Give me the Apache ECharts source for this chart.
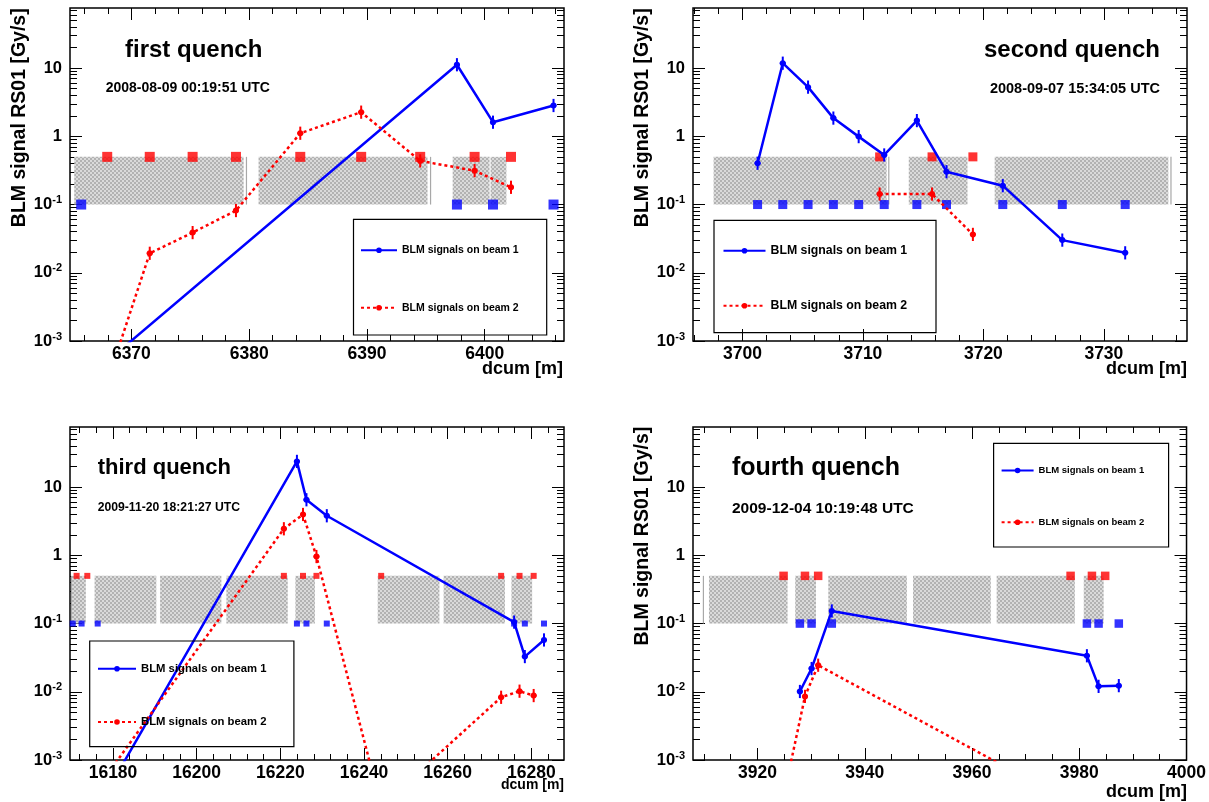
<!DOCTYPE html>
<html>
<head>
<meta charset="utf-8">
<script src="https://cdn.jsdelivr.net/npm/echarts@6/dist/echarts.min.js"></script>
<style>
html, body { margin: 0; padding: 0; background: #fff; }
#chart { width: 1209px; height: 802px; }
</style>
</head>
<body>
<div id="chart"></div>
<script>
const FONT = 'Liberation Sans';
const BEAM1 = 'BLM signals on beam 1';
const BEAM2 = 'BLM signals on beam 2';

// common log y range
const yMin = 0.001;
const yMax = 76;
const decadeTicks = [0.001, 0.01, 0.1, 1, 10];
const beam1Level = 0.1;   // blue squares = beam 1 BLM positions
const beam2Level = 0.5;   // red squares = beam 2 BLM positions
const magnetLow = 0.1;
const magnetHigh = 0.5;
const errFactor = 1.25;

// first quench
const q1Range = [6364.79, 6406.73];
const q1Ticks = [6370, 6380, 6390, 6400];
const q1Beam1Pos = [6365.74, 6397.64, 6400.70, 6405.84];
const q1Beam1Sig = [2.4e-4, 11.2, 1.61, 2.83];
const q1Beam2Pos = [6367.95, 6371.56, 6375.20, 6378.88, 6384.34, 6389.51, 6394.52, 6399.14, 6402.23];
const q1Beam2Sig = [2.5e-4, 0.0193, 0.0388, 0.0817, 1.11, 2.26, 0.436, 0.314, 0.179];
const q1Magnets = [[6365.15, 6379.53], [6379.72, 6379.82], [6380.80, 6395.14], [6395.35, 6395.45], [6397.28, 6400.41], [6400.50, 6401.84]];

// second quench
const q2Range = [3695.9, 3736.9];
const q2Ticks = [3700, 3710, 3720, 3730];
const q2Beam1Pos = [3701.26, 3703.35, 3705.45, 3707.55, 3709.65, 3711.77, 3714.48, 3716.94, 3721.61, 3726.55, 3731.77];
const q2Beam1Sig = [0.403, 11.8, 5.26, 1.85, 0.99, 0.533, 1.70, 0.303, 0.189, 0.0301, 0.0196];
const q2Beam2Pos = [3711.39, 3715.74, 3719.13];
const q2Beam2Sig = [0.1425, 0.1425, 0.0365];
const q2Magnets = [[3697.61, 3711.97], [3712.10, 3712.20], [3713.81, 3718.68], [3720.94, 3735.35], [3735.52, 3735.62]];

// third quench
const q3Range = [16169.72, 16287.8];
const q3Ticks = [16180, 16200, 16220, 16240, 16260, 16280];
const q3Beam1Pos = [16170.38, 16172.49, 16176.34, 16223.96, 16226.24, 16231.10, 16275.88, 16278.44, 16283.02];
const q3Beam1Sig = [1.2e-4, 1.5e-4, 2.0e-4, 23.8, 6.52, 3.8, 0.105, 0.0328, 0.0575];
const q3Beam2Pos = [16171.30, 16173.86, 16220.84, 16225.42, 16228.63, 16244.10, 16272.77, 16277.17, 16280.55];
const q3Beam2Sig = [1.5e-4, 2.4e-4, 2.45, 3.97, 0.96, 2.1e-4, 0.0083, 0.0102, 0.0088];
const q3Magnets = [[16169.95, 16170.05], [16170.2, 16173.5], [16175.6, 16190.35], [16191.26, 16205.9], [16207.1, 16221.76],
  [16223.6, 16228.26], [16243.28, 16258.02], [16259.03, 16273.68], [16275.24, 16280.18]];

// fourth quench
const q4Range = [3907.97, 4000];
const q4Ticks = [3920, 3940, 3960, 3980, 4000];
const q4Beam1Pos = [3927.90, 3930.08, 3933.85, 3981.42, 3983.60, 3987.37];
const q4Beam1Sig = [0.0101, 0.0219, 0.153, 0.0337, 0.0120, 0.0123];
const q4Beam2Pos = [3924.86, 3928.85, 3931.31, 3978.38, 3982.36, 3984.83];
const q4Beam2Sig = [2.9e-4, 0.00855, 0.0245, 2.4e-4, 2.0e-4, 1.8e-4];
const q4Magnets = [[3909.8, 3909.9], [3910.95, 3925.6], [3927.03, 3930.9], [3933.2, 3947.85], [3949.0, 3963.5], [3964.6, 3979.17], [3980.84, 3984.54]];

const panels = [
	{
		grid: { left: 70, top: 8, width: 494, height: 333 },
		range: q1Range, ticks: q1Ticks, minorStep: 2,
		b1Pos: q1Beam1Pos, b1Sig: q1Beam1Sig, b2Pos: q1Beam2Pos, b2Sig: q1Beam2Sig,
		magnets: q1Magnets, square: 10,
		legendBox: [353.5, 219.3, 193.2, 115.7],
		legend: { left: 360, y1: 248.3, y2: 305.7, itemWidth: 36, fontSize: 10.5 },
	},
	{
		grid: { left: 693, top: 8, width: 494, height: 333 },
		range: q2Range, ticks: q2Ticks, minorStep: 2,
		b1Pos: q2Beam1Pos, b1Sig: q2Beam1Sig, b2Pos: q2Beam2Pos, b2Sig: q2Beam2Sig,
		magnets: q2Magnets, square: 9,
		legendBox: [714, 220.3, 222, 112.4],
		legend: { left: 722.5, y1: 248.3, y2: 303.3, itemWidth: 42, fontSize: 12.3 },
	},
	{
		grid: { left: 70, top: 427, width: 494, height: 333 },
		range: q3Range, ticks: q3Ticks, minorStep: 4,
		b1Pos: q3Beam1Pos, b1Sig: q3Beam1Sig, b2Pos: q3Beam2Pos, b2Sig: q3Beam2Sig,
		magnets: q3Magnets, square: 6,
		legendBox: [89.7, 641, 204.2, 105.7],
		legend: { left: 97, y1: 666.7, y2: 720, itemWidth: 38, fontSize: 11.3 },
	},
	{
		grid: { left: 693, top: 427, width: 494, height: 333 },
		range: q4Range, ticks: q4Ticks, minorStep: 5,
		b1Pos: q4Beam1Pos, b1Sig: q4Beam1Sig, b2Pos: q4Beam2Pos, b2Sig: q4Beam2Sig,
		magnets: q4Magnets, square: 8.5,
		legendBox: [993.6, 443.3, 175, 103.7],
		legend: { left: 1000.6, y1: 469, y2: 520.7, itemWidth: 32, fontSize: 9.5 },
	},
];

const texts = [
	{ text: 'first quench', x: 125, y: 50.7, size: 24 },
	{ text: '2008-08-09 00:19:51 UTC', x: 105.7, y: 88.3, size: 14 },
	{ text: 'dcum [m]', x: 563, y: 369.5, size: 18, align: 'right' },
	{ text: 'BLM signal RS01 [Gy/s]', x: 20, y: 8.3, size: 19.5, align: 'right', rot: true },

	{ text: 'second quench', x: 1160, y: 50.7, size: 24, align: 'right' },
	{ text: '2008-09-07 15:34:05 UTC', x: 1160, y: 89.3, size: 14.5, align: 'right' },
	{ text: 'dcum [m]', x: 1187, y: 369.5, size: 18, align: 'right' },
	{ text: 'BLM signal RS01 [Gy/s]', x: 643, y: 8.3, size: 19.5, align: 'right', rot: true },

	{ text: 'third quench', x: 97.7, y: 468.3, size: 22 },
	{ text: '2009-11-20 18:21:27 UTC', x: 97.7, y: 507.3, size: 12.2 },
	{ text: 'dcum [m]', x: 564, y: 785, size: 14, align: 'right' },

	{ text: 'fourth quench', x: 732, y: 468.3, size: 25 },
	{ text: '2009-12-04 10:19:48 UTC', x: 732, y: 508.3, size: 15.5 },
	{ text: 'dcum [m]', x: 1187, y: 791.7, size: 18, align: 'right' },
	{ text: 'BLM signal RS01 [Gy/s]', x: 643, y: 426.7, size: 19.5, align: 'right', rot: true },
];

function makeHatch() {
	const c = document.createElement('canvas');
	c.width = 4;
	c.height = 4;
	const g = c.getContext('2d');
	g.fillStyle = '#dadada';
	g.fillRect(0, 0, 4, 4);
	g.fillStyle = '#b2b2b2';
	g.fillRect(0, 0, 2, 2);
	g.fillRect(2, 2, 2, 2);
	return c;
}
const hatch = { image: makeHatch(), repeat: 'repeat' };

const tickLine = { color: '#000', width: 1 };
const noLabel = { show: false };

function minorValues(range, step) {
	const out = [];
	for (let v = Math.ceil(range[0] / step) * step; v <= range[1]; v += step) out.push(v);
	return out;
}

function logMinor() {
	const out = [];
	for (const d of decadeTicks) {
		for (let k = 1; k <= 9; k++) {
			const v = d * k;
			if (v <= yMax) out.push(v);
		}
	}
	return out;
}

function xAxesFor(gi, p) {
	const base = {
		gridIndex: gi, type: 'value', min: p.range[0], max: p.range[1],
		axisLine: { show: false }, splitLine: { show: false },
	};
	const minor = minorValues(p.range, p.minorStep);
	return [
		{
			...base, position: 'bottom',
			axisTick: { show: true, inside: true, length: 12, customValues: p.ticks, lineStyle: tickLine },
			axisLabel: {
				show: true, customValues: p.ticks, margin: 4,
				formatter: (v) => String(Math.round(v)),
				fontSize: 17.5, fontWeight: 'bold', fontFamily: FONT, color: '#000',
			},
		},
		{ ...base, position: 'bottom', axisTick: { show: true, inside: true, length: 6, customValues: minor, lineStyle: tickLine }, axisLabel: noLabel },
		{ ...base, position: 'top', axisTick: { show: true, inside: true, length: 12, customValues: p.ticks, lineStyle: tickLine }, axisLabel: noLabel },
		{ ...base, position: 'top', axisTick: { show: true, inside: true, length: 6, customValues: minor, lineStyle: tickLine }, axisLabel: noLabel },
	];
}

function yAxesFor(gi) {
	const base = {
		gridIndex: gi, type: 'log', logBase: 10, min: yMin, max: yMax,
		axisLine: { show: false }, splitLine: { show: false },
	};
	const minor = logMinor();
	return [
		{
			...base, position: 'left',
			axisTick: { show: true, inside: true, length: 12, customValues: decadeTicks, lineStyle: tickLine },
			axisLabel: {
				show: true, customValues: decadeTicks, margin: 8,
				formatter: (v) => {
					const e = Math.round(Math.log10(v));
					if (e === 0) return '{b|1}';
					if (e === 1) return '{b|10}';
					return '{b|10}{s|' + e + '}';
				},
				rich: {
					b: { fontSize: 16.5, fontWeight: 'bold', fontFamily: FONT, color: '#000', lineHeight: 20 },
					s: { fontSize: 11, fontWeight: 'bold', fontFamily: FONT, color: '#000', verticalAlign: 'top' },
				},
			},
		},
		{ ...base, position: 'left', axisTick: { show: true, inside: true, length: 7, customValues: minor, lineStyle: tickLine }, axisLabel: noLabel },
		{ ...base, position: 'right', axisTick: { show: true, inside: true, length: 12, customValues: decadeTicks, lineStyle: tickLine }, axisLabel: noLabel },
		{ ...base, position: 'right', axisTick: { show: true, inside: true, length: 7, customValues: minor, lineStyle: tickLine }, axisLabel: noLabel },
	];
}

function renderMagnet(params, api) {
	const a = api.coord([api.value(0), magnetHigh]);
	const b = api.coord([api.value(1), magnetLow]);
	const w = b[0] - a[0];
	return {
		type: 'rect',
		shape: { x: a[0], y: a[1], width: Math.max(w, 1.2), height: b[1] - a[1] },
		style: { fill: w < 3 ? '#a8a8a8' : hatch },
	};
}

function errorRenderer(color) {
	return function (params, api) {
		const x = api.value(0);
		const y = api.value(1);
		const c = api.coord([x, y]);
		const hi = api.coord([x, y * errFactor]);
		const lo = api.coord([x, y / errFactor]);
		return {
			type: 'group',
			children: [
				{ type: 'line', shape: { x1: c[0], y1: hi[1], x2: c[0], y2: lo[1] }, style: { stroke: color, lineWidth: 2 } },
				{ type: 'line', shape: { x1: c[0] - 3, y1: c[1], x2: c[0] + 3, y2: c[1] }, style: { stroke: color, lineWidth: 2 } },
			],
		};
	};
}

const pairs = (xs, ys) => xs.map((x, i) => [x, ys[i]]);

let option = {
	animation: false,
	backgroundColor: '#fff',
	grid: [],
	xAxis: [],
	yAxis: [],
	legend: [],
	series: [],
	graphic: [],
};

const legendIconH = 7;

for (const [i, p] of panels.entries()) {
	option.grid.push({ ...p.grid, show: true, borderColor: '#000', borderWidth: 1.5, backgroundColor: 'transparent', containLabel: false });
	option.xAxis.push(...xAxesFor(i, p));
	option.yAxis.push(...yAxesFor(i));
	const ax = { xAxisIndex: 4 * i, yAxisIndex: 4 * i };

	option.series.push({
		type: 'custom', ...ax, renderItem: renderMagnet, encode: { x: [0, 1] },
		data: p.magnets, z: 1, silent: true,
	});
	option.series.push({
		type: 'scatter', ...ax, symbol: 'rect', symbolSize: p.square, z: 2, silent: true,
		itemStyle: { color: '#0000ff' }, data: p.b1Pos.map((x) => [x, beam1Level]),
	});
	option.series.push({
		type: 'scatter', ...ax, symbol: 'rect', symbolSize: p.square, z: 2, silent: true,
		itemStyle: { color: '#ff0000' }, data: p.b2Pos.map((x) => [x, beam2Level]),
	});
	option.series.push({
		name: BEAM1, type: 'line', ...ax, z: 3, clip: true,
		symbol: 'circle', symbolSize: 6, showSymbol: true,
		itemStyle: { color: '#0000ff' }, lineStyle: { color: '#0000ff', width: 2.5 },
		data: pairs(p.b1Pos, p.b1Sig),
	});
	option.series.push({
		name: BEAM2, type: 'line', ...ax, z: 3, clip: true,
		symbol: 'circle', symbolSize: 6, showSymbol: true,
		itemStyle: { color: '#ff0000' }, lineStyle: { color: '#ff0000', width: 2.5, type: [3, 3] },
		data: pairs(p.b2Pos, p.b2Sig),
	});
	option.series.push({
		type: 'custom', ...ax, renderItem: errorRenderer('#0000ff'), clip: true, z: 4, silent: true,
		data: pairs(p.b1Pos, p.b1Sig),
	});
	option.series.push({
		type: 'custom', ...ax, renderItem: errorRenderer('#ff0000'), clip: true, z: 4, silent: true,
		data: pairs(p.b2Pos, p.b2Sig),
	});

	const lg = p.legend;
	for (const [name, y] of [[BEAM1, lg.y1], [BEAM2, lg.y2]]) {
		option.legend.push({
			left: lg.left, top: y - legendIconH / 2, orient: 'vertical', padding: 0,
			itemWidth: lg.itemWidth, itemHeight: legendIconH,
			selectedMode: false, data: [name],
			textStyle: { fontSize: lg.fontSize, fontWeight: 'bold', fontFamily: FONT, color: '#000' },
		});
	}
	const b = p.legendBox;
	option.graphic.push({
		type: 'rect', z: 100, silent: true,
		shape: { x: b[0], y: b[1], width: b[2], height: b[3] },
		style: { fill: 'none', stroke: '#000', lineWidth: 1.2 },
	});
}

for (const t of texts) {
	option.graphic.push({
		type: 'text', z: 100, silent: true,
		x: t.x, y: t.y, rotation: t.rot ? Math.PI / 2 : 0,
		style: {
			text: t.text, fill: '#000', fontSize: t.size, fontWeight: 'bold', fontFamily: FONT,
			align: t.align || 'left', verticalAlign: 'middle',
			textAlign: t.align || 'left', textVerticalAlign: 'middle',
		},
	});
}

const myChart = echarts.init(document.getElementById('chart'));
myChart.setOption(option);
</script>
</body>
</html>
